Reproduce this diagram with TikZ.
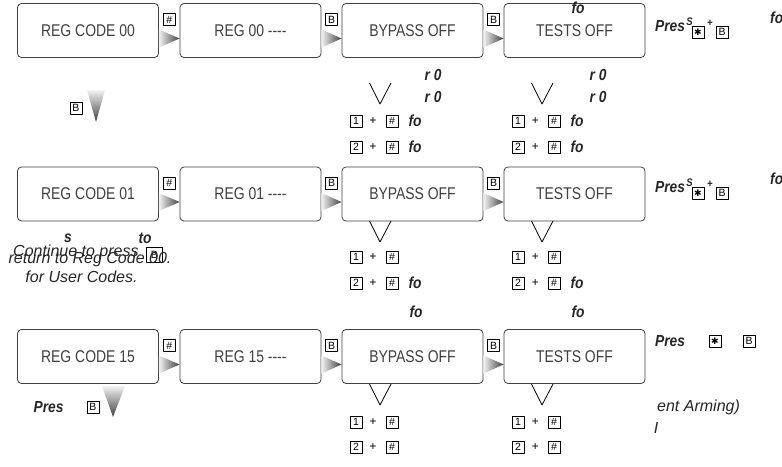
\documentclass[tikz,border=0pt]{standalone}
\usepackage{fontspec}
\setmainfont{Liberation Sans}
\newfontfamily\lcdfont{Liberation Sans}[FakeStretch=0.82]
\newfontfamily\boldlbl{Liberation Sans}[FakeStretch=0.86]
\newfontfamily\symfont{DejaVu Sans}
\usetikzlibrary{calc}

\tikzset{
  lcd/.style={draw=black!75, rounded corners=4pt, line width=0.8pt, minimum width=141pt,
    minimum height=54pt, inner sep=0pt, text=black!75, font=\lcdfont\fontsize{17}{17}\selectfont},
  keybox/.style={draw, line width=0.5pt, minimum size=12pt, inner sep=0pt, font=\fontsize{10.5}{10.5}\selectfont},
  lbl/.style={inner sep=0pt, text=black!85, font=\itshape\fontsize{16}{16}\selectfont},
  lblb/.style={inner sep=0pt, text=black!85, font=\boldlbl\bfseries\itshape\fontsize{16}{16}\selectfont},
  sup/.style={inner sep=0pt, text=black!85, font=\boldlbl\bfseries\itshape\fontsize{11}{11}\selectfont},
  plus/.style={inner sep=0pt, font=\itshape\fontsize{12}{12}\selectfont},
  shade right/.style={left color=black!5, right color=black!75},
  shade down/.style={top color=black!5, bottom color=black!75},
}

% grey step arrow between two displays, key shown above it
\newcommand\nextarrow[3]{%
  \shade[shade right] ($(#1.east)+(0,-1)$) -- ($(#1.east)+(0,17)$) -- ($(#2.west)+(0,8)$) -- cycle;
  \node[keybox] (#1k) at ($(#1.east)!0.5!(#2.west)+(0,-11)$) {#3};}

% open V under a display (top at y #2), with the two key lines at y #3 and #4
\newcommand\keylines[4]{%
  \draw[line width=0.8pt] ($(#1.center |- 0,#2)+(-43,0)$) -- ($(#1.center |- 0,#2)+(-32.5,21)$)
    -- ($(#1.center |- 0,#2)+(-21.5,0)$);
  \node[keybox] (#1a) at ($(#1.center |- 0,#3)+(-56.5,0)$) {1};
  \node[plus] (#1ap) at ($(#1.center |- 0,#3)+(-39.5,0)$) {+};
  \node[keybox] (#1ah) at ($(#1.center |- 0,#3)+(-20.5,0)$) {\#};
  \node[keybox] (#1b) at ($(#1.center |- 0,#4)+(-56.5,0)$) {2};
  \node[plus] (#1bp) at ($(#1.center |- 0,#4)+(-39.5,0)$) {+};
  \node[keybox] (#1bh) at ($(#1.center |- 0,#4)+(-20.5,0)$) {\#};}

\begin{document}
\begin{tikzpicture}[x=1pt, y=-1pt, line join=round]
  \useasboundingbox[fill=white] (0,0) rectangle (782,466);

  % row 1
  \node[lcd] (code00) at (88,30.5) {REG CODE 00};
  \node[lcd] (reg00) at (250.5,30.5) {REG 00 ----};
  \node[lcd] (byp1) at (412.5,30.5) {BYPASS OFF};
  \node[lcd] (tst1) at (574.5,30.5) {TESTS OFF};
  \nextarrow{code00}{reg00}{\#}
  \nextarrow{reg00}{byp1}{B}
  \nextarrow{byp1}{tst1}{B}
  \keylines{byp1}{83}{121}{147}
  \keylines{tst1}{83}{121}{147}
  \node[lblb] (fo1t) at (578,8) {fo};
  \node[lblb] (r1a) at (433,75) {r 0};
  \node[lblb] (r1b) at (433,97) {r 0};
  \node[lblb] (r1c) at (598,75) {r 0};
  \node[lblb] (r1d) at (598,97) {r 0};
  \foreach \x in {415,577} {
    \node[lblb] at (\x,121) {fo};
    \node[lblb] at (\x,147) {fo};
  }
  \shade[shade down] (87,90) -- (105,90) -- (96,122) -- cycle;
  \node[keybox] (down1k) at (76,108) {B};
  \node[lblb, anchor=base west] (pres1) at (655,31) {Pres};
  \node[sup, anchor=base west] (pres1s) at ($(pres1.base east)+(1,-6)$) {S};
  \node[keybox] (star1) at (698,32) {\symfont\fontsize{9}{9}\selectfont ✱};
  \node[sup] (plus1) at (710,23) {+};
  \node[keybox] (b1) at (722,32) {B};
  \node[lblb, anchor=base west] (fo1r) at (770,23) {fo};

  % row 2
  \node[lcd] (code01) at (88,194) {REG CODE 01};
  \node[lcd] (reg01) at (250.5,194) {REG 01 ----};
  \node[lcd] (byp2) at (412.5,194) {BYPASS OFF};
  \node[lcd] (tst2) at (574.5,194) {TESTS OFF};
  \nextarrow{code01}{reg01}{\#}
  \nextarrow{reg01}{byp2}{B}
  \nextarrow{byp2}{tst2}{B}
  \keylines{byp2}{221}{257}{283}
  \keylines{tst2}{221}{257}{283}
  \foreach \x in {415,577} {
    \node[lblb] at (\x,283) {fo};
    \node[lblb] at (\x+1,312) {fo};
  }
  \node[lblb] (s2) at (68,238) {s};
  \node[lblb] (to2) at (145,238) {to};
  \node[lbl, anchor=west] (cont2) at (13,252) {Continue to press};
  \node[keybox, minimum width=16pt, minimum height=15pt] (b2k) at (154.5,254.5) {B};
  \node[lbl] (ret2) at (90,259) {return to Reg Code 00.};
  \node[lbl] (user2) at (81.5,277) {for User Codes.};
  \node[lblb, anchor=base west] (pres2) at (655,192) {Pres};
  \node[sup, anchor=base west] (pres2s) at ($(pres2.base east)+(1,-6)$) {S};
  \node[keybox] (star2) at (698,193) {\symfont\fontsize{9}{9}\selectfont ✱};
  \node[sup] (plus2) at (710,184) {+};
  \node[keybox] (b2) at (722,193) {B};
  \node[lblb, anchor=base west] (fo2r) at (770,184) {fo};

  % row 3
  \node[lcd] (code15) at (88,356.5) {REG CODE 15};
  \node[lcd] (reg15) at (250.5,356.5) {REG 15 ----};
  \node[lcd] (byp3) at (412.5,356.5) {BYPASS OFF};
  \node[lcd] (tst3) at (574.5,356.5) {TESTS OFF};
  \nextarrow{code15}{reg15}{\#}
  \nextarrow{reg15}{byp3}{B}
  \nextarrow{byp3}{tst3}{B}
  \keylines{byp3}{384}{422}{447}
  \keylines{tst3}{384}{422}{447}
  \shade[shade down] (102,386) -- (125,386) -- (113,417) -- cycle;
  \node[keybox] (down3k) at (93,407) {B};
  \node[lblb] (pres3l) at (48.5,407) {Pres};
  \node[lblb, anchor=base west] (pres3) at (655,346) {Pres};
  \node[keybox] (star3) at (715,341) {\symfont\fontsize{9}{9}\selectfont ✱};
  \node[keybox] (b3) at (749,341) {B};
  \node[lbl, anchor=base west] (arm3) at (657,411) {ent Arming)};
  \node[lbl] (i3) at (656,428) {I};
\end{tikzpicture}
\end{document}
